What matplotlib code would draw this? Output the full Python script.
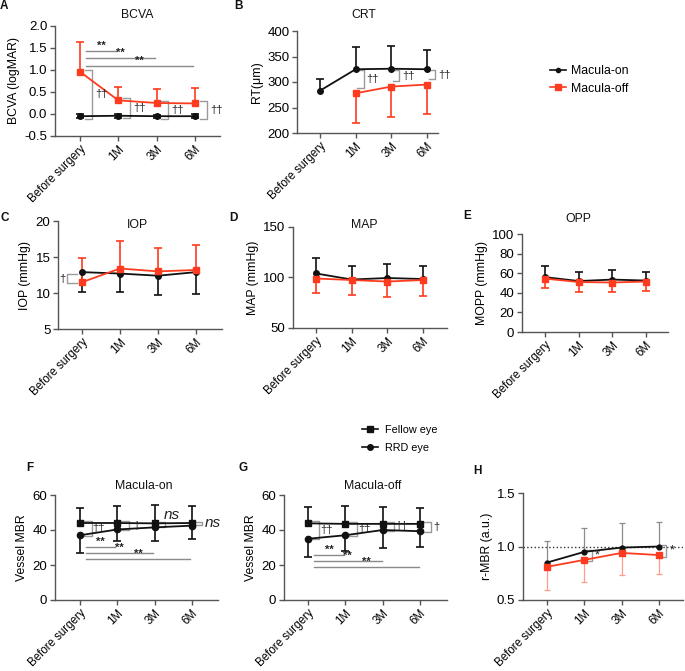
import matplotlib
matplotlib.use('Agg')
import matplotlib.pyplot as plt
from matplotlib.lines import Line2D
import numpy as np

plt.rcParams['font.family'] = ['Liberation Sans', 'DejaVu Sans']
plt.rcParams['axes.unicode_minus'] = False

# ---------------- data ----------------
categories = ['Before surgery', '1M', '3M', '6M']
xi = [0, 1, 2, 3]

# A BCVA
bcva_on = [-0.05, -0.04, -0.05, -0.05]
bcva_on_sd = [0.04, 0.04, 0.03, 0.04]
bcva_off = [0.96, 0.31, 0.25, 0.24]
bcva_off_sd = [0.67, 0.31, 0.31, 0.35]
bcva_sig_y = [1.43, 1.27, 1.09]
bcva_sig_to = [1, 2, 3]

# B CRT
crt_on = [283, 325, 326, 325]
crt_on_sd = [23, 43, 44, 38]
crt_off_x = [1, 2, 3]
crt_off = [278, 291, 295]
crt_off_sd = [58, 59, 57]

# C IOP
iop_on = [12.9, 12.7, 12.4, 12.9]
iop_on_sd = [2.7, 2.6, 2.7, 3.0]
iop_off = [11.5, 13.4, 13.0, 13.2]
iop_off_sd = [3.3, 3.8, 3.2, 3.5]

# D MAP
map_on = [104, 98, 99.5, 98.5]
map_on_sd = [15, 13, 13.5, 12.5]
map_off = [99, 97.5, 96, 97.5]
map_off_sd = [14.5, 15, 15, 15.5]

# E OPP
opp_on = [56, 52, 53.5, 52.5]
opp_on_sd = [11, 9.5, 9.5, 9]
opp_off = [54.5, 51, 50.5, 51.5]
opp_off_sd = [10, 10, 10, 10]

# F Macula-on vessel MBR
f_fellow = [44, 44, 43.8, 44]
f_fellow_sd = [8.5, 10, 10.7, 10]
f_rrd = [37, 40.3, 41.5, 42.5]
f_rrd_sd = [10, 6.8, 8, 7.5]
f_sig_y = [30.2, 27.1, 23.4]
f_marks = ['\u2020\u2020', '\u2020', 'ns', 'ns']

# G Macula-off vessel MBR
g_fellow = [43.8, 43.5, 43.5, 43.5]
g_fellow_sd = [9.2, 10, 9.5, 8.8]
g_rrd = [35, 37, 40, 39.3]
g_rrd_sd = [10.5, 9, 10.5, 8.8]
g_sig_y = [25.8, 22.5, 18.7]
g_marks = ['\u2020\u2020', '\u2020\u2020', '\u2020\u2020', '\u2020']

# H r-MBR
h_on = [0.85, 0.95, 0.99, 1.0]
h_on_sd = [0.20, 0.22, 0.23, 0.23]
h_off = [0.81, 0.875, 0.94, 0.92]
h_off_sd = [0.22, 0.21, 0.205, 0.175]

# ---------------- layout helpers ----------------
W, H = 685, 671
fig = plt.figure(figsize=(W / 100, H / 100), dpi=100)
RED = '#FF3B1F'
BLK = '#111111'
BRK = '#9a9a9a'
SIG = '#8a8a8a'


def make_axes(L, T, R, B, c0, c3, ylim, yticks, yticklabels, ylabel):
    ax = fig.add_axes([L / W, 1 - B / H, (R - L) / W, (B - T) / H])
    s = (c3 - c0) / 3.0
    ax.set_xlim((L - c0) / s, (R - c0) / s)
    ax.set_ylim(*ylim)
    for sp in ['top', 'right']:
        ax.spines[sp].set_visible(False)
    for sp in ['left', 'bottom']:
        ax.spines[sp].set_color('#555555')
        ax.spines[sp].set_linewidth(1.0)
    ax.tick_params(axis='both', direction='out', length=3.5, width=1.0,
                   color='#555555', pad=2)
    ax.tick_params(axis='y', labelsize=9.5)
    ax.tick_params(axis='x', labelsize=8.3, pad=1.5)
    ax.set_yticks(yticks)
    ax.set_yticklabels(yticklabels, fontsize=9.5)
    ax.set_xticks(xi)
    ax.set_xticklabels(categories, rotation=45, ha='right',
                       rotation_mode='anchor', fontsize=8.3)
    ax.set_ylabel(ylabel, fontsize=8.8, labelpad=3)
    ax.patch.set_alpha(0)
    return ax


def series(ax, xs, ys, sd, color, marker, ms, up=True, down=True,
           ecolor=None, elw=1.2, cap=6, z=3):
    ec = ecolor or color
    ys = np.asarray(ys, float)
    sd = np.asarray(sd, float)
    if up:
        ax.vlines(xs, ys, ys + sd, color=ec, lw=elw, zorder=z - 1, clip_on=False)
        ax.plot(xs, ys + sd, ls='none', marker='_', ms=cap, mew=elw, color=ec,
                zorder=z - 1, clip_on=False)
    if down:
        ax.vlines(xs, ys - sd, ys, color=ec, lw=elw, zorder=z - 1, clip_on=False)
        ax.plot(xs, ys - sd, ls='none', marker='_', ms=cap, mew=elw, color=ec,
                zorder=z - 1, clip_on=False)
    ax.plot(xs, ys, color=color, marker=marker, ms=ms, lw=1.3, zorder=z,
            clip_on=False)


def bracket(ax, x, ytop, ybot, text, dx0, dx1, tx, ty=None, fs=8,
            style='normal', color=BRK):
    ax.plot([x + dx0, x + dx1, x + dx1, x + dx0], [ytop, ytop, ybot, ybot],
            color=color, lw=1.0, clip_on=False, zorder=2)
    if text:
        ax.text(x + tx, (ytop + ybot) / 2 if ty is None else ty, text,
                ha='center', va='center', fontsize=fs, style=style,
                color='#222222', clip_on=False)


def sig_lines(ax, ys, tos, x0, trim, fs=8):
    for y, t in zip(ys, tos):
        ax.plot([x0, t - trim], [y, y], color=SIG, lw=1.0, zorder=1)
        ax.text((x0 + t - trim) / 2, y, '**', ha='center', va='bottom',
                fontsize=fs, color='#222222', fontweight='bold')


def ftext(px, py, s, **kw):
    fig.text(px / W, 1 - py / H, s, **kw)


# ---------------- A ----------------
axA = make_axes(55, 26, 220, 136, 80, 195, (-0.5, 2.0),
                [-0.5, 0, 0.5, 1.0, 1.5, 2.0],
                ['-0.5', '0.0', '0.5', '1.0', '1.5', '2.0'], 'BCVA (logMAR)')
series(axA, xi, bcva_on, bcva_on_sd, BLK, 'o', 4)
series(axA, xi, bcva_off, bcva_off_sd, RED, 's', 4.5, down=False)
sig_lines(axA, bcva_sig_y, bcva_sig_to, 0.15, 0.05)
for i in range(4):
    bracket(axA, xi[i], bcva_off[i] + 0.05, bcva_on[i] - 0.06,
            '\u2020\u2020', 0.12, 0.3, 0.55)

# ---------------- B ----------------
axB = make_axes(297, 31, 438, 133, 320, 427, (200, 400),
                [200, 250, 300, 350, 400],
                ['200', '250', '300', '350', '400'], 'RT(\u03bcm)')
series(axB, xi, crt_on, crt_on_sd, BLK, 'o', 4, down=False)
series(axB, crt_off_x, crt_off, crt_off_sd, RED, 's', 4.5, up=False)
for j, xv in enumerate(crt_off_x):
    bracket(axB, xv, crt_on[xv] - 2, crt_off[j] + 10, '\u2020\u2020',
            0.05, 0.22, 0.48)

# ---------------- C ----------------
axC = make_axes(58, 221, 222, 329, 82, 196, (5, 20), [5, 10, 15, 20],
                ['5', '10', '15', '20'], 'IOP (mmHg)')
series(axC, xi, iop_on, iop_on_sd, BLK, 'o', 4, up=False)
series(axC, xi, iop_off, iop_off_sd, RED, 's', 4.5, down=False)
bracket(axC, xi[0], iop_on[0] - 0.3, iop_off[0] - 0.15, '\u2020',
        -0.13, -0.39, -0.52)

# ---------------- D ----------------
axD = make_axes(293, 227, 447, 328, 316, 423, (50, 150), [50, 100, 150],
                ['50', '100', '150'], 'MAP (mmHg)')
series(axD, xi, map_on, map_on_sd, BLK, 'o', 4, down=False)
series(axD, xi, map_off, map_off_sd, RED, 's', 4.5, up=False)

# ---------------- E ----------------
axE = make_axes(522, 234, 668, 332, 545, 646, (0, 100),
                [0, 20, 40, 60, 80, 100],
                ['0', '20', '40', '60', '80', '100'], 'MOPP (mmHg)')
series(axE, xi, opp_on, opp_on_sd, BLK, 'o', 4, down=False)
series(axE, xi, opp_off, opp_off_sd, RED, 's', 4.5, up=False)

# ---------------- F ----------------
axF = make_axes(55, 495, 218, 600, 80, 192, (0, 60), [0, 20, 40, 60],
                ['0', '20', '40', '60'], 'Vessel MBR')
series(axF, xi, f_fellow, f_fellow_sd, BLK, 's', 5, down=False)
series(axF, xi, f_rrd, f_rrd_sd, BLK, 'o', 4.5, up=False)
sig_lines(axF, f_sig_y, [1, 2, 3], 0.16, 0.05)
for i in range(4):
    if i == 2:
        bracket(axF, xi[i], f_fellow[i] + 0.8, f_rrd[i] + 0.3, '',
                0.13, 0.27, 0.4)
        axF.text(xi[i] + 0.45, 48.5, f_marks[i], ha='center', va='center',
                 fontsize=11, style='italic', color='#222222')
    elif i == 3:
        bracket(axF, xi[i], f_fellow[i] + 0.8, f_rrd[i] + 0.3, f_marks[i],
                0.1, 0.26, 0.56, fs=11, style='italic')
    else:
        bracket(axF, xi[i], f_fellow[i] + 1.3, f_rrd[i] - 0.5, f_marks[i],
                0.08, 0.31, 0.5)

# ---------------- G ----------------
axG = make_axes(284, 495, 447, 600, 308, 420, (0, 60), [0, 20, 40, 60],
                ['0', '20', '40', '60'], 'Vessel MBR')
series(axG, xi, g_fellow, g_fellow_sd, BLK, 's', 5, down=False)
series(axG, xi, g_rrd, g_rrd_sd, BLK, 'o', 4.5, up=False)
sig_lines(axG, g_sig_y, [1, 2, 3], 0.15, 0.03)
for i in range(4):
    bracket(axG, xi[i], g_fellow[i] + 1.3, g_rrd[i] - 0.3, g_marks[i],
            0.08, 0.3, 0.5 if i < 3 else 0.45)

# ---------------- H ----------------
axH = make_axes(523, 493, 683, 600, 547, 659, (0.5, 1.5), [0.5, 1.0, 1.5],
                ['0.5', '1.0', '1.5'], 'r-MBR (a.u.)')
axH.axhline(1.0, ls=':', color='#333333', lw=1.0, zorder=1)
series(axH, xi, h_on, h_on_sd, BLK, 'o', 3.5, down=False, ecolor='#8c8c8c',
       elw=0.9, cap=5)
series(axH, xi, h_off, h_off_sd, RED, 's', 4.5, up=False, ecolor='#FF9C8C',
       elw=0.9, cap=5)
for i in [1, 3]:
    bracket(axH, xi[i], h_on[i] + 0.015, h_off[i] - 0.015, '*',
            0.08, 0.2, 0.34, fs=9)

# ---------------- titles / labels ----------------
tkw = dict(ha='center', va='center', fontsize=8.8, color='#111111')
ftext(137, 15, 'BCVA', **tkw)
ftext(364, 15, 'CRT', **tkw)
ftext(137, 225, 'IOP', **tkw)
ftext(364, 225, 'MAP', **tkw)
ftext(578, 219, 'OPP', **tkw)
ftext(144, 486, 'Macula-on', **tkw)
ftext(373, 486, 'Macula-off', **tkw)

lkw = dict(ha='center', va='center', fontsize=8.5, fontweight='bold',
           color='#111111')
ftext(4, 6, 'A', **lkw)
ftext(239, 6, 'B', **lkw)
ftext(5, 218, 'C', **lkw)
ftext(233, 218, 'D', **lkw)
ftext(467, 216, 'E', **lkw)
ftext(30, 468, 'F', **lkw)
ftext(243, 468, 'G', **lkw)
ftext(477, 471, 'H', **lkw)

# ---------------- legends ----------------
h1 = [Line2D([], [], color=BLK, marker='o', ms=3, lw=1.2),
      Line2D([], [], color=RED, marker='s', ms=4, lw=1.2)]
fig.legend(h1, ['Macula-on', 'Macula-off'], loc='upper left',
           bbox_to_anchor=(550 / W, 1 - 65 / H), frameon=False, fontsize=8.8,
           handlelength=1.3, handletextpad=0.4, labelspacing=0.45,
           borderpad=0, borderaxespad=0)
h2 = [Line2D([], [], color=BLK, marker='s', ms=4, lw=1.2),
      Line2D([], [], color=BLK, marker='o', ms=4, lw=1.2)]
fig.legend(h2, ['Fellow eye', 'RRD eye'], loc='upper left',
           bbox_to_anchor=(362 / W, 1 - 425 / H), frameon=False, fontsize=7.8,
           handlelength=1.5, handletextpad=0.6, labelspacing=0.75,
           borderpad=0, borderaxespad=0)

fig.savefig('out.png', dpi=100)
